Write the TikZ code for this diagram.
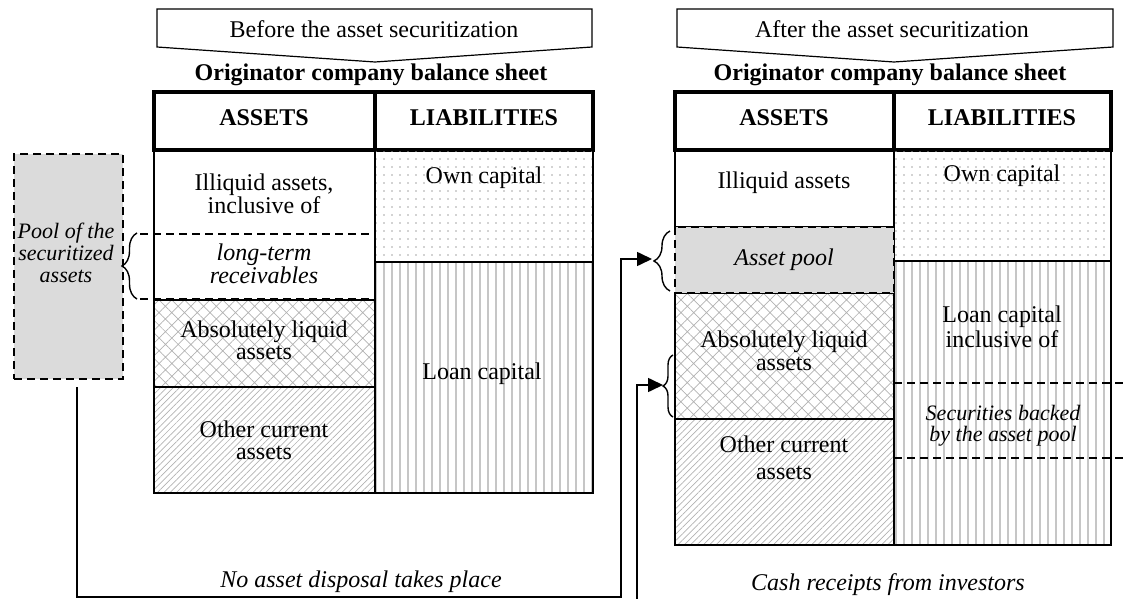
\documentclass[tikz,border=0pt]{standalone}
\usepackage{fontspec}
\setmainfont{Liberation Serif}
\usetikzlibrary{patterns.meta,arrows.meta,decorations.pathreplacing}

\begin{document}
\begin{tikzpicture}[x=1pt,y=-1pt,
		font=\fontsize{24}{22}\selectfont,
		txt/.style={align=center,anchor=base,inner sep=0pt},
		itxt/.style={txt,font=\fontsize{24}{20}\selectfont\itshape},
		cell/.style={draw=black,line width=2pt},
		head/.style={draw=black,line width=3.2pt},
		dashline/.style={line width=2.4pt,dash pattern=on 8pt off 5pt},
		dotfill/.style={pattern={Dots[distance=8pt,radius=0.8pt]},pattern color=gray!70},
		vfill/.style={pattern={Lines[angle=90,distance=8pt,line width=2pt]},pattern color=gray!45},
		xfill/.style={pattern={Hatch[angle=45,distance=9pt,line width=0.7pt]},pattern color=gray!60},
		nefill/.style={pattern={Lines[angle=45,distance=4.5pt,line width=0.7pt]},pattern color=gray!60},
		link/.style={line width=1.6pt,-{Triangle[length=15pt,width=14pt]}},
		curly/.style={line width=1.4pt,decorate,decoration={brace,amplitude=#1}}]
	\useasboundingbox (0,0) rectangle (1128,599);

	% before
	\draw[line width=1.2pt] (157,9) -- (592,9) -- (592,47) -- (375,62) -- (157,47) -- cycle;
	\node[txt] (bannerL) at (374,38) {Before the asset securitization};
	\node[txt] (titleL) at (371,81) {\textbf{Originator company balance sheet}};
	\draw[head] (154,92) rectangle (375,150);
	\draw[head] (375,92) rectangle (593,150);
	\node[txt] (assetsL) at (264,126) {\textbf{ASSETS}};
	\node[txt] (liabL) at (484,126) {\textbf{LIABILITIES}};
	\draw[cell] (154,150) rectangle (375,300);
	\draw[cell,xfill] (154,300) rectangle (375,387);
	\draw[cell,nefill] (154,387) rectangle (375,493);
	\draw[cell,dotfill] (375,150) rectangle (593,262);
	\draw[cell,vfill] (375,262) rectangle (593,493);
	\draw[dashline] (140,234) -- (375,234);
	\draw[dashline] (140,299) -- (375,299);
	\node[txt] (illiqL) at (264,214) {Illiquid assets,\\inclusive of};
	\node[itxt] (recv) at (264,283) {long-term\\receivables};
	\node[txt] (liqL) at (264,359) {Absolutely liquid\\assets};
	\node[txt] (otherL) at (264,459) {Other current\\assets};
	\node[txt] (ownL) at (484,184) {Own capital};
	\node[txt] (loanL) at (482,379) {Loan capital};

	\node[draw,dashline,fill=gray!28,minimum width=109,minimum height=225,inner sep=0pt,anchor=north west] (pool) at (13,153) {};
	\node[itxt,font=\fontsize{22}{22}\selectfont\itshape] (pooltxt) at (66,282) {Pool of the\\securitized\\assets};
	\draw[curly=15pt] (137,299) -- (137,233);

	% after
	\draw[line width=1.2pt] (677,9) -- (1113,9) -- (1113,47) -- (894,62) -- (677,47) -- cycle;
	\node[txt] (bannerR) at (892,38) {After the asset securitization};
	\node[txt] (titleR) at (890,81) {\textbf{Originator company balance sheet}};
	\draw[head] (675,92) rectangle (894,150);
	\draw[head] (894,92) rectangle (1111,150);
	\node[txt] (assetsR) at (784,126) {\textbf{ASSETS}};
	\node[txt] (liabR) at (1002,126) {\textbf{LIABILITIES}};
	\draw[cell] (675,150) rectangle (894,227);
	\draw[cell,xfill] (675,293) rectangle (894,419);
	\draw[cell,nefill] (675,419) rectangle (894,545);
	\draw[cell,dotfill] (894,150) rectangle (1111,261);
	\draw[cell,vfill] (894,261) rectangle (1111,545);
	\draw[dashline,fill=gray!28] (675,227) rectangle (894,293);
	\draw[dashline] (894,383) -- (1128,383);
	\draw[dashline] (894,458) -- (1128,458);
	\node[txt] (illiqR) at (784,189) {Illiquid assets};
	\node[itxt] (poolR) at (784,265) {Asset pool};
	\node[txt,font=\fontsize{24}{23}\selectfont] (liqR) at (784,370) {Absolutely liquid\\assets};
	\node[txt,font=\fontsize{24}{27}\selectfont] (otherR) at (784,479) {Other current\\assets};
	\node[txt] (ownR) at (1002,182) {Own capital};
	\node[txt,font=\fontsize{24}{25}\selectfont] (loanR) at (1002,347) {Loan capital\\inclusive of};
	\node[itxt,font=\fontsize{22}{21}\selectfont\itshape] (secR) at (1003,441) {Securities backed\\by the asset pool};
	\draw[curly=16pt] (670,291) -- (670,231);
	\draw[curly=10pt] (673,417) -- (673,355);

	\coordinate (tipA) at (652,259);
	\coordinate (tipB) at (663,385);
	\coordinate (cashin) at (637,600);
	\draw[link] ([xshift=8pt,yshift=-7pt]pool.south) |- (621,597) |- (tipA);
	\draw[link] (cashin) |- (tipB);
	\node[itxt] (noneL) at (361,587) {No asset disposal takes place};
	\node[itxt] (cashR) at (888,590) {Cash receipts from investors};
\end{tikzpicture}
\end{document}
